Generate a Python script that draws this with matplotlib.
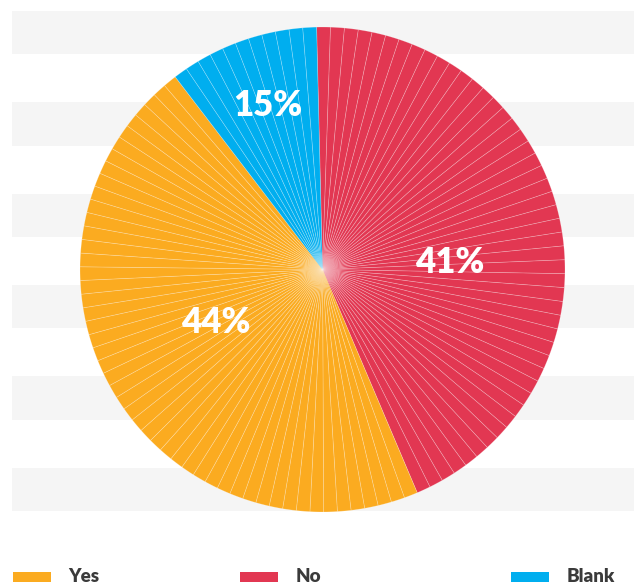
import numpy as np
import matplotlib
matplotlib.use("Agg")
import matplotlib.pyplot as plt
from matplotlib.patches import Rectangle

# DATA
###################################
categories = ["No", "Yes", "Blank"]          # pie order, clockwise from 12 o'clock
slice_sizes = [44, 46, 10]                   # slice sizes as drawn
slice_labels = ["41%", "44%", "15%"]         # labels as printed on the chart
colors = ["#E23752", "#FBAB20", "#00AEEF"]
legend_order = ["Yes", "No", "Blank"]

# the original pie is built from many thin wedges (about 1.1 per percent)
SEGMENTS_PER_PCT = 1.1

W, H = 634, 585
CX, CY, R = 322.5, 269.5, 242.5              # pie centre / radius in pixels


def py(y):
    # pixel row (top = 0) -> data y
    return H - y


fig = plt.figure(figsize=(W / 100, H / 100), dpi=100)
ax = fig.add_axes([0, 0, 1, 1])

# alternating grey bands behind the pie
band_top = 10.7
band_step = 91.4
band_h = 43.5
for i in range(6):
    y0 = band_top + i * band_step
    ax.add_patch(Rectangle((12, py(y0 + band_h)), W - 12, band_h,
                           facecolor="#F5F5F5", edgecolor="none", zorder=0))

# split each slice into thin equal wedges
sub_sizes = []
sub_colors = []
for size, col in zip(slice_sizes, colors):
    n = int(round(size * SEGMENTS_PER_PCT))
    sub_sizes += [size / n] * n
    sub_colors += [col] * n

ax.pie(sub_sizes, colors=sub_colors, startangle=91.4, counterclock=False,
       center=(CX, py(CY)), radius=R, frame=True,
       wedgeprops=dict(linewidth=0.5, edgecolor=(1, 1, 1, 0.28)))

# percentage labels (positions relative to pie, in radius units)
label_pos = {"No": (0.523, 0.03), "Yes": (-0.44, -0.22), "Blank": (-0.226, 0.677)}
for cat, lab in zip(categories, slice_labels):
    dx, dy = label_pos[cat]
    ax.text(CX + dx * R, py(CY) + dy * R, lab, color="white",
            fontsize=25, fontweight="heavy", family="Lato",
            ha="center", va="center", zorder=5)

# legend along the bottom
legend_x = {"Yes": 12.7, "No": 240, "Blank": 511}
for cat in legend_order:
    col = colors[categories.index(cat)]
    x0 = legend_x[cat]
    ax.add_patch(Rectangle((x0, py(582)), 38, 10, facecolor=col,
                           edgecolor="none", zorder=5))
    ax.text(x0 + 56, py(581.5), cat, color="#3A3A3A", fontsize=13.5,
            fontweight="heavy", family="Lato", ha="left", va="baseline")

ax.set_xlim(0, W)
ax.set_ylim(0, H)
ax.set_aspect("equal")
ax.axis("off")

fig.savefig("out.png", dpi=100)
